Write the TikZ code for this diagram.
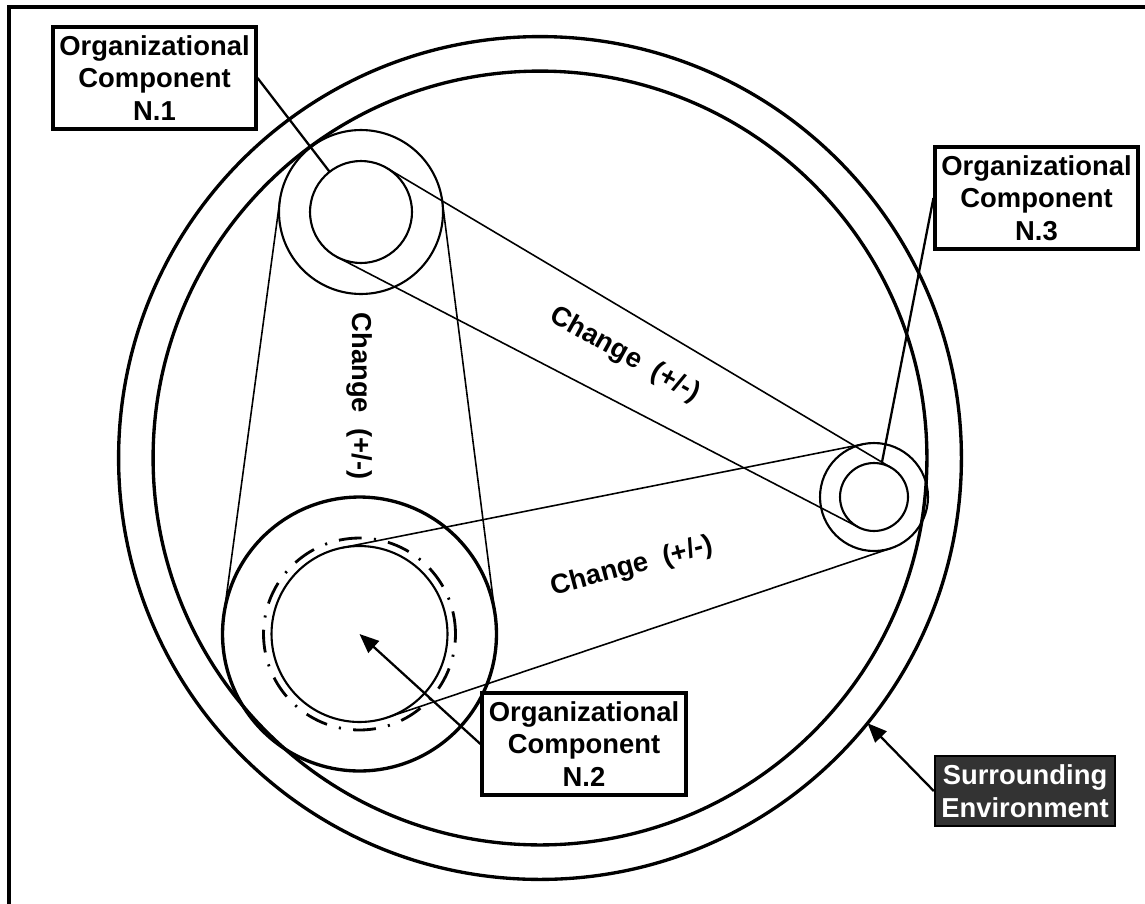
\documentclass[tikz,border=0pt]{standalone}
\usepackage{fontspec}
\setmainfont{Liberation Sans}
\usetikzlibrary{calc,arrows.meta}

\definecolor{envgray}{HTML}{333333}

% outer common tangents of two circles: centre, radius (px), centre, radius (px)
\newcommand\beltpair[4]{%
  \draw[belt] let \p1=($(#3)-(#1)$), \n1={veclen(\x1,\y1)},
                  \n2={acos((#2-#4)*0.5690551/\n1)} in
    ($(#1)!#2*0.02cm!\n2:(#3)$) -- ($(#3)!#4*0.02cm!\n2-180:(#1)$)
    ($(#1)!#2*0.02cm!-\n2:(#3)$) -- ($(#3)!#4*0.02cm!180-\n2:(#1)$);
}

\begin{document}
\begin{tikzpicture}[x=0.02cm,y=-0.02cm,
  ring/.style={circle, draw, inner sep=0pt, outer sep=0pt, minimum size=#1},
  belt/.style={line width=0.9pt},
  tag/.style={draw, line width=1.8pt, fill=white, inner sep=0pt, align=center,
    font=\fontsize{15.6}{18.5}\selectfont\bfseries,
    minimum width=4.06cm, minimum height=2.04cm},
  darktag/.style={tag, fill=envgray, text=white, line width=1.4pt,
    minimum width=3.6cm, minimum height=1.4cm},
  leader/.style={line width=1.3pt},
  pointer/.style={line width=1.3pt, -{Triangle[length=11pt,width=9pt]}},
  flowtext/.style={font=\fontsize{15.6}{18.5}\selectfont\bfseries, inner sep=0pt}
]
\useasboundingbox (0,0) rectangle (1145,903);
\clip (0,0) rectangle (1145,903);

% frame, running off the right and bottom edges
\draw[line width=2.3pt] (9,7) rectangle (1180,940);

% surrounding environment
\node[ring=16.86cm, line width=1.9pt] (env) at (540,458) {};
\node[ring=15.48cm, line width=1.9pt] (envin) at (540,458) {};

% component N.1
\coordinate (c1) at (361,212);
\node[ring=3.28cm, line width=1.2pt] (n1out) at (c1) {};
\node[ring=2.04cm, line width=1.2pt] (n1in) at (c1) {};

% component N.2
\coordinate (c2) at (359.5,634);
\node[ring=5.48cm, line width=1.9pt] (n2out) at (c2) {};
\node[ring=3.84cm, line width=1.6pt, dash pattern=on 13pt off 7pt on 1.2pt off 7pt] (n2dash) at (c2) {};
\node[ring=3.52cm, line width=1.2pt] (n2in) at (c2) {};

% component N.3
\coordinate (c3) at (874,497);
\node[ring=2.16cm, line width=1.2pt] (n3out) at (c3) {};
\node[ring=1.36cm, line width=1.2pt] (n3in) at (c3) {};

% belts of change between the components
\beltpair{c1}{82}{c2}{137}
\beltpair{c1}{51}{c3}{34}
\beltpair{c2}{88}{c3}{54}

\node[flowtext, rotate=-90] (ch12) at (360,396) {Change\ \ (+/-)};
\node[flowtext, rotate=-29] (ch13) at (625,355) {Change\ \ (+/-)};
\node[flowtext, rotate=15] (ch23) at (632,567) {Change\ \ (+/-)};

% labels
\node[tag] (t1) at (154.5,78) {Organizational\\Component\\N.1};
\node[tag] (t3) at (1036.5,198) {Organizational\\Component\\N.3};
\node[tag, minimum width=4.08cm] (t2) at (584,744) {Organizational\\Component\\N.2};
\node[darktag] (te) at (1025,791) {Surrounding\\Environment};

\draw[leader] (t1.east) -- (n1in.128);
\draw[leader] (t3.west) -- (n3in.77);
\draw[pointer] (t2.west) -- (c2);
\draw[pointer] (te.west) -- (env.-39);
\end{tikzpicture}
\end{document}
